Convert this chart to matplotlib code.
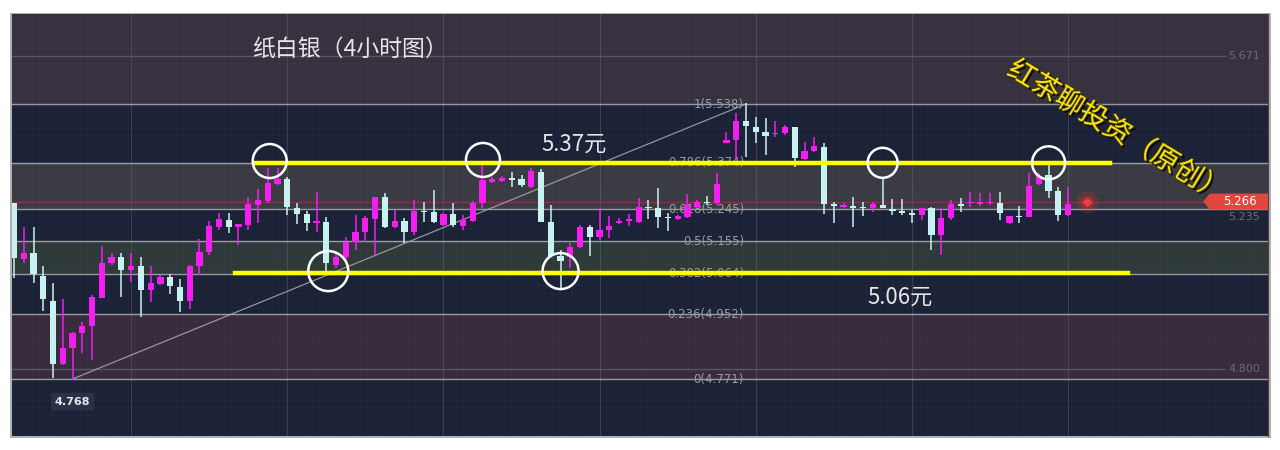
import matplotlib
matplotlib.use("Agg")
import matplotlib.pyplot as plt
import matplotlib.patheffects as pe
from matplotlib.patches import Ellipse, Rectangle, Polygon
import numpy as np

# ---------------- data ----------------
opens = [5.262, 5.106, 5.122, 5.058, 4.989, 4.813, 4.857, 4.899, 4.919, 4.997,
         5.095, 5.111, 5.075, 5.086, 5.019, 5.036, 5.055, 5.028, 4.989, 5.086,
         5.125, 5.195, 5.215, 5.195, 5.201, 5.256, 5.268, 5.315, 5.329, 5.248,
         5.231, 5.206, 5.209, 5.089, 5.111, 5.153, 5.181, 5.217, 5.279, 5.195,
         5.212, 5.181, 5.240, 5.237, 5.201, 5.231, 5.198, 5.212, 5.262, 5.320,
         5.324, 5.329, 5.329, 5.307, 5.348, 5.209, 5.114, 5.111, 5.139, 5.195,
         5.167, 5.187, 5.206, 5.212, 5.209, 5.251, 5.248, 5.223, 5.217, 5.223,
         5.251, 5.265, 5.262, 5.429, 5.437, 5.490, 5.474, 5.460, 5.454, 5.457,
         5.474, 5.385, 5.407, 5.418, 5.259, 5.251, 5.254, 5.251, 5.248, 5.256,
         5.245, 5.240, 5.234, 5.228, 5.248, 5.173, 5.220, 5.259, 5.262, 5.259,
         5.262, 5.262, 5.206, 5.226, 5.223, 5.315, 5.340, 5.295, 5.228]
highs = [5.262, 5.195, 5.195, 5.086, 5.039, 4.994, 4.902, 4.930, 5.005, 5.142,
         5.122, 5.122, 5.122, 5.111, 5.086, 5.061, 5.064, 5.050, 5.089, 5.162,
         5.212, 5.234, 5.234, 5.203, 5.279, 5.301, 5.360, 5.360, 5.334, 5.262,
         5.240, 5.293, 5.223, 5.122, 5.167, 5.228, 5.226, 5.279, 5.290, 5.242,
         5.220, 5.270, 5.265, 5.298, 5.234, 5.262, 5.228, 5.268, 5.374, 5.334,
         5.338, 5.348, 5.340, 5.360, 5.357, 5.256, 5.131, 5.150, 5.200, 5.200,
         5.248, 5.226, 5.220, 5.231, 5.276, 5.270, 5.304, 5.234, 5.228, 5.287,
         5.270, 5.281, 5.345, 5.460, 5.513, 5.541, 5.502, 5.499, 5.490, 5.480,
         5.474, 5.432, 5.446, 5.429, 5.265, 5.262, 5.279, 5.265, 5.265, 5.332,
         5.273, 5.273, 5.242, 5.248, 5.251, 5.248, 5.270, 5.276, 5.293, 5.290,
         5.290, 5.293, 5.226, 5.254, 5.345, 5.345, 5.379, 5.306, 5.306]
lows = [5.053, 5.095, 5.039, 4.961, 4.774, 4.810, 4.768, 4.843, 4.824, 4.997,
        5.089, 5.000, 5.042, 4.944, 4.986, 5.033, 5.008, 4.958, 4.966, 5.061,
        5.117, 5.187, 5.178, 5.145, 5.187, 5.206, 5.262, 5.312, 5.228, 5.203,
        5.184, 5.181, 5.070, 5.081, 5.103, 5.131, 5.153, 5.117, 5.192, 5.192,
        5.150, 5.173, 5.209, 5.206, 5.198, 5.195, 5.187, 5.209, 5.248, 5.318,
        5.320, 5.307, 5.307, 5.304, 5.209, 5.111, 5.019, 5.081, 5.136, 5.114,
        5.159, 5.164, 5.203, 5.198, 5.206, 5.217, 5.192, 5.184, 5.215, 5.220,
        5.251, 5.256, 5.256, 5.429, 5.382, 5.390, 5.429, 5.396, 5.446, 5.452,
        5.362, 5.382, 5.404, 5.231, 5.206, 5.248, 5.195, 5.226, 5.237, 5.248,
        5.228, 5.228, 5.206, 5.214, 5.131, 5.117, 5.214, 5.237, 5.251, 5.254,
        5.256, 5.214, 5.203, 5.206, 5.223, 5.312, 5.276, 5.212, 5.226]
closes = [5.108, 5.122, 5.064, 4.994, 4.813, 4.857, 4.899, 4.919, 5.000, 5.095,
          5.111, 5.075, 5.086, 5.019, 5.039, 5.055, 5.030, 4.989, 5.086, 5.125,
          5.198, 5.217, 5.195, 5.203, 5.259, 5.271, 5.318, 5.329, 5.251, 5.231,
          5.206, 5.212, 5.095, 5.111, 5.153, 5.181, 5.220, 5.279, 5.195, 5.212,
          5.181, 5.240, 5.237, 5.209, 5.231, 5.201, 5.215, 5.262, 5.326, 5.329,
          5.332, 5.327, 5.312, 5.351, 5.209, 5.114, 5.100, 5.139, 5.195, 5.167,
          5.187, 5.198, 5.212, 5.217, 5.251, 5.248, 5.223, 5.220, 5.226, 5.256,
          5.265, 5.262, 5.315, 5.437, 5.490, 5.477, 5.460, 5.449, 5.457, 5.474,
          5.387, 5.407, 5.421, 5.259, 5.254, 5.256, 5.248, 5.248, 5.259, 5.248,
          5.240, 5.234, 5.228, 5.248, 5.173, 5.220, 5.259, 5.254, 5.265, 5.265,
          5.265, 5.234, 5.226, 5.223, 5.309, 5.337, 5.295, 5.228, 5.259]

fib_ratios = ["1", "0.786", "0.618", "0.5", "0.382", "0.236", "0"]
fib_prices = [5.538, 5.374, 5.245, 5.155, 5.064, 4.952, 4.771]
axis_labels = ["5.671", "5.235", "4.800"]
axis_values = [5.671, 5.235, 4.800]
last_price = 5.266
low_label = "4.768"
low_value = 4.768
resistance = 5.374
support = 5.067
title = "纸白银（4小时图）"
res_text = "5.37元"
sup_text = "5.06元"
watermark = "红茶聊投资（原创）"
# circles: (candle index, price)
circle_pts = [(26.2, 5.379), (48.05, 5.382), (32.2, 5.072), (56.0, 5.072), (89.0, 5.374), (106.0, 5.374)]
circle_rad = [17, 17, 20, 18, 15, 16.5]

# ---------------- figure ----------------
W, H = 1280, 450
fig = plt.figure(figsize=(W / 100, H / 100), dpi=100)
fig.patch.set_facecolor("white")
shadow = Rectangle((10 / W, 12 / H), 1261 / W, 425 / H, transform=fig.transFigure,
                   facecolor="#b0b0b0", edgecolor="none", zorder=-10)
fig.add_artist(shadow)
ax = fig.add_axes([12 / W, 14 / H, 1256 / W, 422 / H])
ax.set_zorder(1)
n = len(opens)
x = np.arange(n)
px_per_x = 9.76
px_per_y = 358.5
x0 = -2 / px_per_x
x1 = x0 + 1256 / px_per_x
y0 = fib_prices[-1] - 57 / px_per_y
y1 = y0 + 422 / px_per_y
ax.set_xlim(x0, x1)
ax.set_ylim(y0, y1)
ax.set_facecolor("#1b2237")
for s in ax.spines.values():
    s.set_visible(False)
ax.spines["right"].set_visible(True)
ax.spines["right"].set_color("#5a3a3a")
ax.set_xticks([]); ax.set_yticks([])

# bands
band_cols = ["#1b2237", "#3a3a43", "#1b2237", "#2e3939", "#1b2237", "#372b3d"]
ax.axhspan(fib_prices[0], y1, color="#36303f", zorder=0, lw=0)
for i in range(len(fib_prices) - 1):
    ax.axhspan(fib_prices[i + 1], fib_prices[i], color=band_cols[i], zorder=0, lw=0)

# fine texture grid
for gx in np.arange(x0, x1, 0.7):
    ax.axvline(gx, color="#ffffff", alpha=0.022, lw=0.6, zorder=0.5)
for gy in np.arange(y0, y1, 0.02):
    ax.axhline(gy, color="#ffffff", alpha=0.022, lw=0.6, zorder=0.5)

# vertical grid lines
for v in range(12, n + 1, 16):
    ax.axvline(v, color="#6a6f80", alpha=0.4, lw=0.8, zorder=1)

# faint axis lines
xa = (1225 - 12) / px_per_x + x0
for v in (axis_values[0], axis_values[-1]):
    ax.plot([x0, xa], [v, v], color="#5a5566", lw=1, zorder=1)

# fib lines
for p in fib_prices:
    ax.axhline(p, color="#b8b8c0", lw=1, alpha=0.8, zorder=1.5)
# current price line
ax.axhline(last_price, color="#8a3545", lw=1, alpha=0.9, zorder=1.6)

# diagonal
ax.plot([6, 75], [fib_prices[-1], fib_prices[0]], color="#a8a8b0", lw=0.9, alpha=0.85, zorder=2)

# fib labels
for r, p in zip(fib_ratios, fib_prices):
    ax.text(74.8, p, f"{r}({p:.3f})", ha="right", va="center", color="#9a9aa2",
            fontsize=8.5, zorder=2.5, family="DejaVu Sans")

# candles
up_c = "#f21ff0"
dn_c = "#c8f2f2"
cols = [up_c if c >= o else dn_c for o, c in zip(opens, closes)]
bottoms = [min(o, c) for o, c in zip(opens, closes)]
heights = [max(abs(c - o), 0.004) for o, c in zip(opens, closes)]
ax.vlines(x, lows, highs, colors=cols, lw=1.1, zorder=3)
ax.bar(x, heights, bottom=bottoms, width=0.64, color=cols, zorder=3.2, linewidth=0)

# yellow lines
ax.plot([24.7, 112.3], [resistance, resistance], color="#ffff00", lw=3.2, zorder=4)
ax.plot([22.6, 114.1], [support, support], color="#ffff00", lw=3.2, zorder=4)

# circles
for (cx, cy), r in zip(circle_pts, circle_rad):
    ax.add_patch(Ellipse((cx, cy), 2 * r / px_per_x, 2 * r / px_per_y, fill=False,
                         edgecolor="white", lw=1.8, zorder=5))

cjk = ["Noto Sans CJK SC", "DejaVu Sans"]
ax.text((252 - 12) / px_per_x + x0, 5.671 + 0.02, title, family=cjk, fontsize=16.5,
        color="#e6e6e6", ha="left", va="center", zorder=6)
ax.text(57.4, 5.374 + 0.053, res_text, family=cjk, fontsize=16, color="#e6e6e6",
        ha="center", va="center", zorder=6)
ax.text(90.8, support - 0.067, sup_text, family=cjk, fontsize=16, color="#e6e6e6",
        ha="center", va="center", zorder=6)
ax.text(113.0, 5.462, watermark, family=cjk, fontsize=20, color="#f4e418", rotation=-31,
        ha="center", va="center", zorder=6, fontweight="medium",
        path_effects=[pe.SimplePatchShadow(offset=(1.5, -1.5), shadow_rgbFace="#000000", alpha=0.8),
                      pe.withStroke(linewidth=1.2, foreground="#4a3d00")])

# low label
ax.text(6, low_value - 0.06, low_label, ha="center", va="center", fontsize=8, color="#e8e8ee",
        fontweight="bold", zorder=6,
        bbox=dict(boxstyle="round,pad=0.35,rounding_size=0.15", fc="#2b3149", ec="none"))

# right axis labels
xr = (1260 - 12) / px_per_x + x0
for lab, v in zip(axis_labels, axis_values):
    off = -0.012 if lab == "5.235" else 0
    ax.text(xr, v + off, lab, ha="right", va="center", fontsize=8, color="#6c6a78", zorder=6)

# red price tag
tx0 = (1207 - 12) / px_per_x + x0
tx1 = x1
hh = 8 / px_per_y
tag = Polygon([[tx0 - 4 / px_per_x, last_price], [tx0 + 3 / px_per_x, last_price + hh],
               [tx1, last_price + hh], [tx1, last_price - hh], [tx0 + 3 / px_per_x, last_price - hh]],
              closed=True, fc="#e2473f", ec="none", zorder=7, clip_on=False)
ax.add_patch(tag)
ax.text((tx0 + tx1) / 2 + 0.3, last_price, f"{last_price:.3f}", ha="center", va="center",
        fontsize=8.5, color="white", zorder=8)

# red dot with glow
ax.scatter([n + 0.9], [last_price], s=260, color="#ff3030", alpha=0.18, zorder=6, linewidths=0)
ax.scatter([n + 0.9], [last_price], s=90, color="#ff3030", alpha=0.3, zorder=6, linewidths=0)
ax.scatter([n + 0.9], [last_price], s=22, marker="D", color="#ff3a3a", zorder=6.5, linewidths=0)

fig.savefig("out.png", dpi=100, facecolor="white")
